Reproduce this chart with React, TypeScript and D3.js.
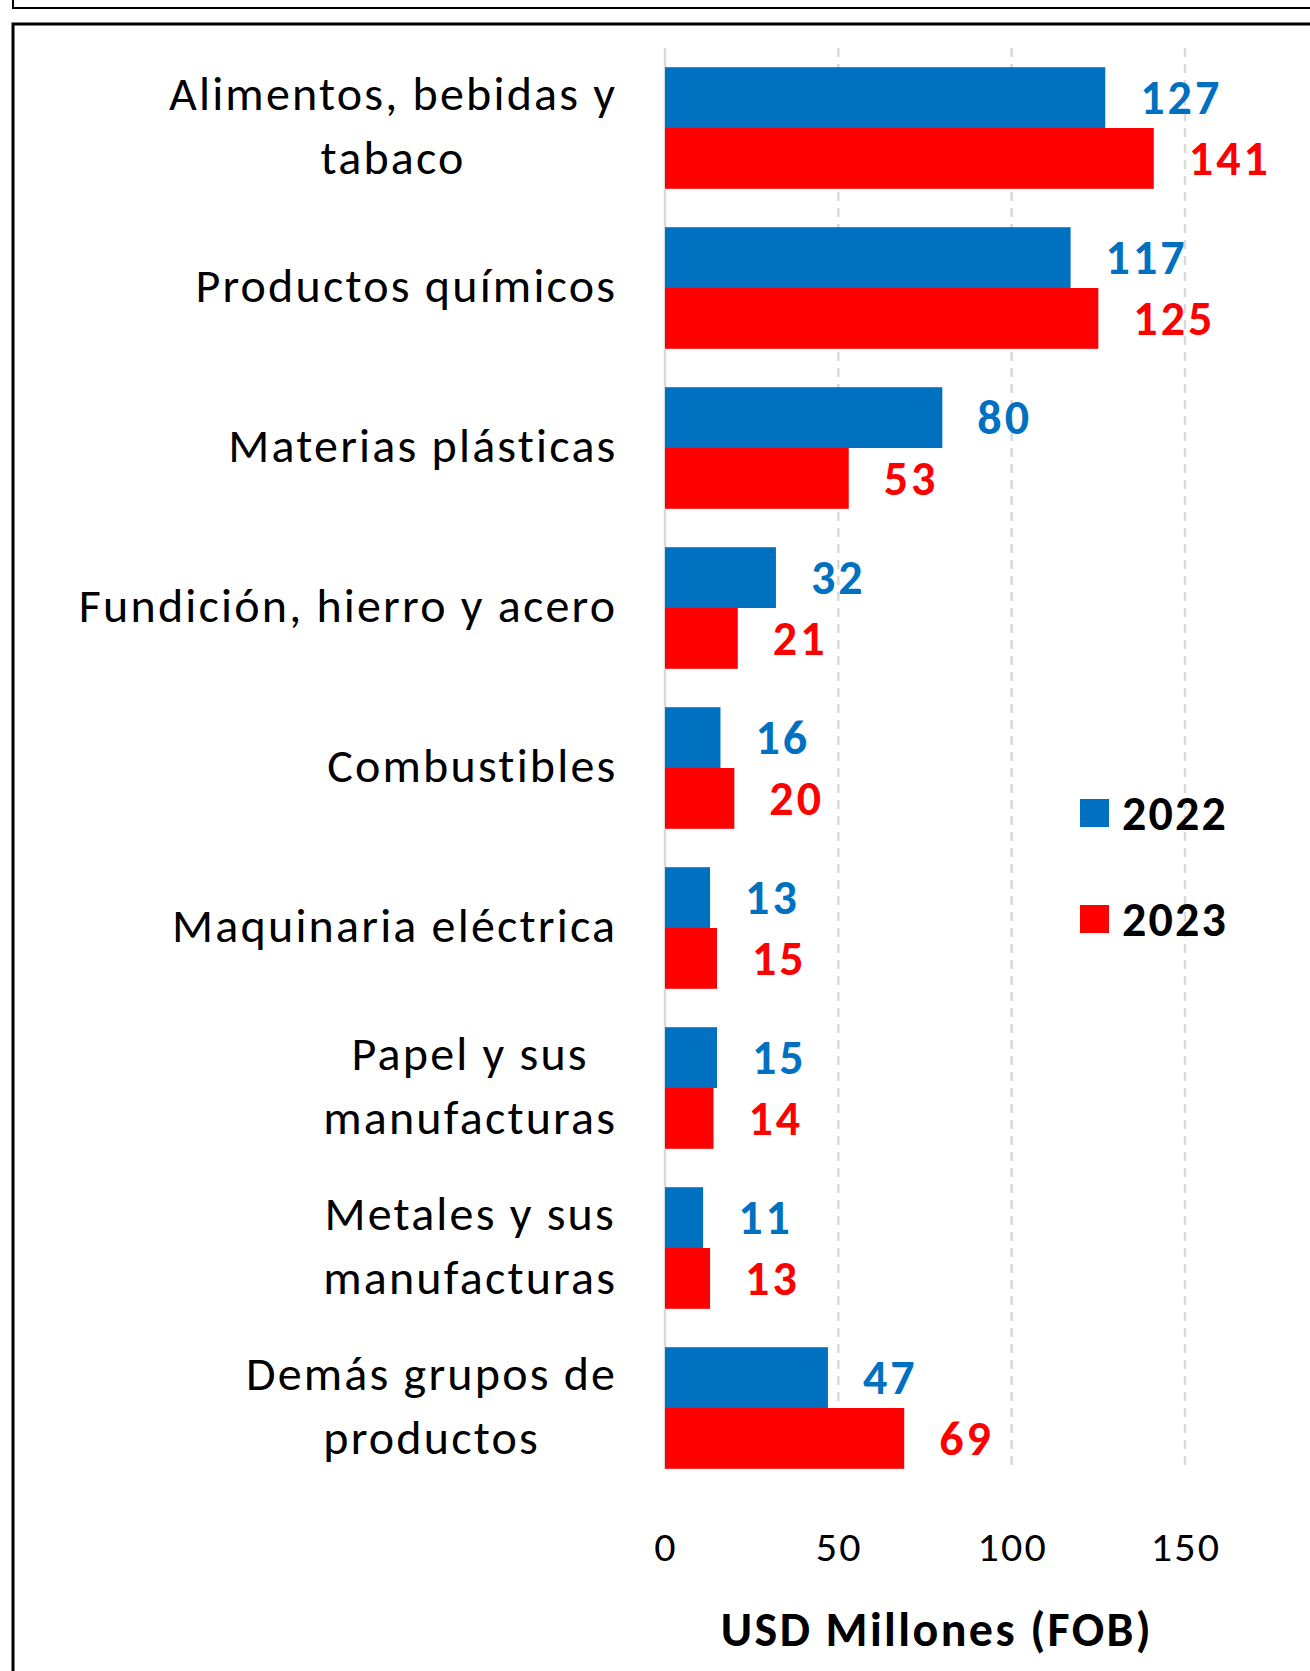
import React from 'react';
import * as d3 from 'd3';

// picture size
const W = 1310;
const H = 1671;

const FONT = 'Carlito, Calibri, Lato, sans-serif';
const BLUE = '#0070C0';
const RED = '#FF0000';
const GRID = '#d9d9d9';

const categories = [
  'Alimentos, bebidas y\ntabaco',
  'Productos químicos',
  'Materias plásticas',
  'Fundición, hierro y acero',
  'Combustibles',
  'Maquinaria eléctrica',
  'Papel y sus\nmanufacturas',
  'Metales y sus\nmanufacturas',
  'Demás grupos de\nproductos',
];
const values2022 = [127, 117, 80, 32, 16, 13, 15, 11, 47];
const values2023 = [141, 125, 53, 21, 20, 15, 14, 13, 69];
const years = ['2022', '2023'];
const xTicks = [0, 50, 100, 150];
const axisTitle = 'USD Millones (FOB)';

const PLOT_TOP = 48;
const PLOT_BOTTOM = 1469;
const LABEL_RIGHT = 615;
const LABEL_SIZE = 48;
const LABEL_LS = 2.2;

let ctx: CanvasRenderingContext2D | null = null;
function textWidth(s: string, font: string, ls: number) {
  if (!ctx) ctx = document.createElement('canvas').getContext('2d');
  if (!ctx) return s.length * 22;
  ctx.font = font;
  // trailing letter-spacing is not visible, so count it one time less
  return ctx.measureText(s).width + ls * (s.length - 1);
}

export default function App() {
  const x = d3.scaleLinear().domain([0, 150]).range([665, 1185]);
  const y = d3.scaleBand<string>()
    .domain(categories)
    .range([PLOT_TOP, PLOT_TOP + 160 * categories.length])
    .paddingInner(0.24)
    .paddingOuter(0.12);
  const sub = d3.scaleBand<string>().domain(years).range([0, y.bandwidth()]);
  const series = [values2022, values2023];
  const colors = [BLUE, RED];

  return (
    <svg width={W} height={H} viewBox={`0 0 ${W} ${H}`} style={{ position: 'absolute', left: 0, top: 0, background: '#fff' }}
      fontFamily={FONT}>
      <rect x={0} y={0} width={W} height={H} fill="#fff" />
      {/* frames */}
      <rect x={13} y={-50} width={W + 50} height={58} fill="none" stroke="#000" strokeWidth={2} />
      <rect x={13} y={24} width={W + 50} height={H + 50} fill="none" stroke="#000" strokeWidth={3} />

      {/* grid */}
      {xTicks.map((t) => (
        <line key={`g-${t}`} x1={x(t)} x2={x(t)} y1={PLOT_TOP} y2={PLOT_BOTTOM}
          stroke={GRID} strokeWidth={2.5} strokeDasharray={t === 0 ? undefined : '9 7'} />
      ))}

      {/* bars */}
      {series.map((vals, si) => vals.map((v, i) => (
        <rect key={`b-${si}-${i}`} x={x(0)} y={(y(categories[i]) ?? 0) + (sub(years[si]) ?? 0)}
          width={x(v) - x(0)} height={sub.bandwidth()} fill={colors[si]} />
      )))}

      {/* value labels */}
      {series.map((vals, si) => vals.map((v, i) => (
        <text key={`v-${si}-${i}`} x={x(v) + 35}
          y={(y(categories[i]) ?? 0) + (sub(years[si]) ?? 0) + sub.bandwidth() / 2}
          dominantBaseline="central" fontSize={48} letterSpacing={3} fontWeight="bold" fill={colors[si]}>{v}</text>
      )))}

      {/* category labels */}
      {categories.map((c) => {
        const lines = c.split('\n');
        const cy = (y(c) ?? 0) + y.bandwidth() / 2 - 3;
        const font = `${LABEL_SIZE}px ${FONT}`;
        const widths = lines.map((l) => textWidth(l, font, LABEL_LS));
        const maxW = Math.max(...widths);
        return lines.map((l, li) => (
          <text key={`c-${c}-${li}`} x={LABEL_RIGHT - maxW / 2 - widths[li] / 2}
            y={cy + (li - (lines.length - 1) / 2) * 64}
            dominantBaseline="central" letterSpacing={LABEL_LS}
            fontSize={LABEL_SIZE} fill="#000">{l}</text>
        ));
      })}

      {/* x tick labels */}
      {xTicks.map((t) => (
        <text key={`t-${t}`} x={x(t) + 1} y={1546} textAnchor="middle" dominantBaseline="central"
          fontSize={42} letterSpacing={2.2} fill="#000">{t}</text>
      ))}
      <text x={937} y={1629} textAnchor="middle" dominantBaseline="central" fontSize={48}
        letterSpacing={2.4} fontWeight="bold" fill="#000">{axisTitle}</text>

      {/* legend */}
      {years.map((yr, i) => (
        <g key={`l-${yr}`} transform={`translate(1080, ${813 + i * 106})`}>
          <rect x={0} y={-14} width={29} height={28} fill={colors[i]} />
          <text x={42} y={0} dominantBaseline="central" fontSize={48} letterSpacing={2.2}
            fontWeight="bold" fill="#000">{yr}</text>
        </g>
      ))}
    </svg>
  );
}
